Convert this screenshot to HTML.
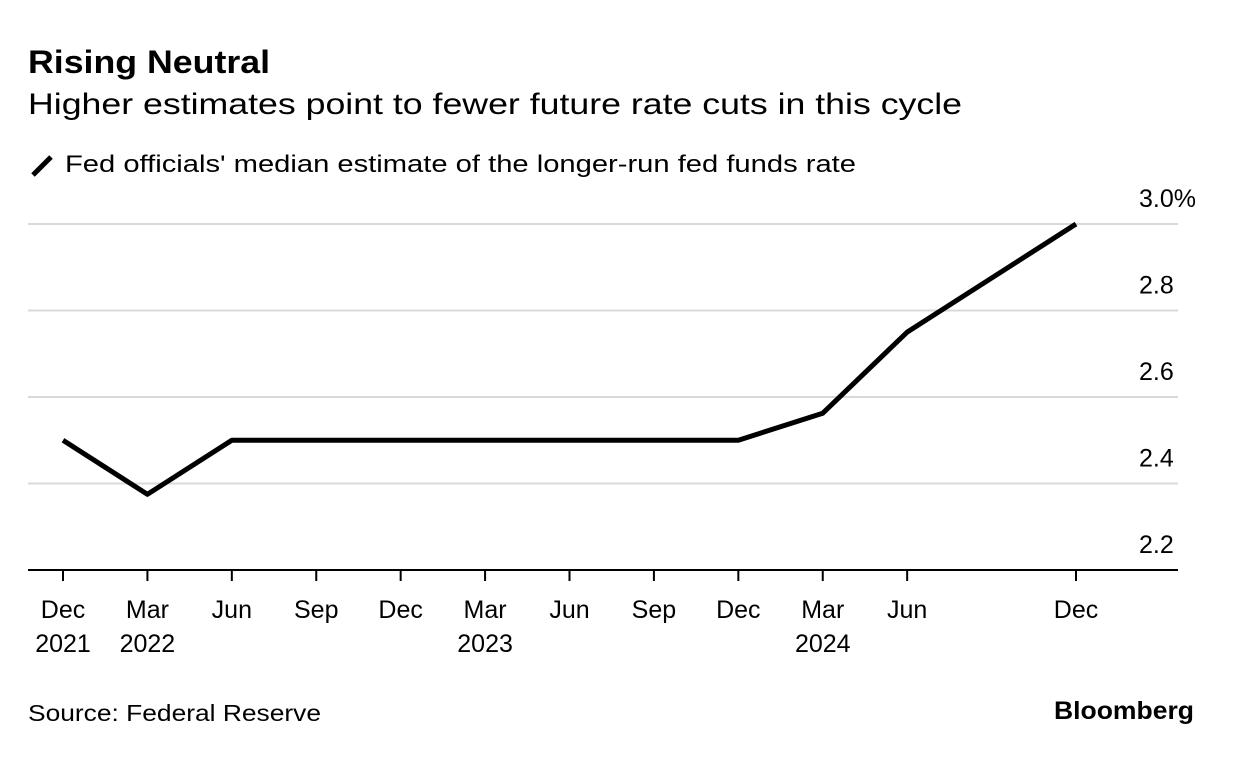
<!DOCTYPE html>
<html><head><meta charset="utf-8"><style>
body{margin:0;background:#fff;font-family:"Liberation Sans",sans-serif;}
</style></head><body>
<svg width="1233" height="770" xmlns="http://www.w3.org/2000/svg" font-family="Liberation Sans, sans-serif">
<text x="28" y="73" font-size="32" font-weight="bold" fill="#000" textLength="242" lengthAdjust="spacingAndGlyphs">Rising Neutral</text>
<text x="28" y="114" font-size="30" fill="#000" textLength="934" lengthAdjust="spacingAndGlyphs">Higher estimates point to fewer future rate cuts in this cycle</text>
<line x1="33" y1="175" x2="51" y2="157" stroke="#000" stroke-width="5"/>
<text x="65" y="172" font-size="24" fill="#000" textLength="791" lengthAdjust="spacingAndGlyphs">Fed officials' median estimate of the longer-run fed funds rate</text>
<g id="grid"></g><g id="xaxis"></g>
<path id="line" fill="none" stroke="#000" stroke-width="5" stroke-linejoin="round"/>
<text x="28" y="721" font-size="23" fill="#000" textLength="293" lengthAdjust="spacingAndGlyphs">Source: Federal Reserve</text>
<text x="1194" y="719" font-size="25" font-weight="bold" fill="#000" text-anchor="end" textLength="140" lengthAdjust="spacingAndGlyphs">Bloomberg</text>
</svg>
<script>
const quarters=[0,1,2,3,4,5,6,7,8,9,10,11,12];
const values=[2.5,2.375,2.5,2.5,2.5,2.5,2.5,2.5,2.5,2.5625,2.75,2.875,3.0];
const yTicks=[2.2,2.4,2.6,2.8,3.0];
const yTickLabels=["2.2","2.4","2.6","2.8","3.0%"];
const xTickQuarters=[0,1,2,3,4,5,6,7,8,9,10,12];
const xTickLine1=["Dec","Mar","Jun","Sep","Dec","Mar","Jun","Sep","Dec","Mar","Jun","Dec"];
const xTickLine2=["2021","2022","","","","2023","","","","2024","",""];
const NS="http://www.w3.org/2000/svg";
const x=q=>63+q*(1076-63)/12;
const y=v=>570-(v-2.2)/0.2*86.5;
const grid=document.getElementById('grid');
yTicks.forEach((t,i)=>{
  if(i>0){const l=document.createElementNS(NS,'line');
  l.setAttribute('x1',28);l.setAttribute('x2',1178);l.setAttribute('y1',y(t));l.setAttribute('y2',y(t));
  l.setAttribute('stroke','#d9d9d9');l.setAttribute('stroke-width',2);
  
  
  grid.appendChild(l);}
  const tx=document.createElementNS(NS,'text');
  tx.setAttribute('x',1139);tx.setAttribute('y',y(t)-17);tx.setAttribute('font-size',25);
  tx.textContent=yTickLabels[i];
  
  
  grid.appendChild(tx);
});
const xa=document.getElementById('xaxis');
const base=document.createElementNS(NS,'line');
base.setAttribute('x1',28);base.setAttribute('x2',1178);base.setAttribute('y1',570);base.setAttribute('y2',570);
base.setAttribute('stroke','#000');base.setAttribute('stroke-width',2);


xa.appendChild(base);
xTickQuarters.forEach((q,i)=>{
  const t=document.createElementNS(NS,'line');
  t.setAttribute('x1',x(q));t.setAttribute('x2',x(q));t.setAttribute('y1',570);t.setAttribute('y2',581);
  t.setAttribute('stroke','#000');t.setAttribute('stroke-width',2);
  
  
  xa.appendChild(t);
  const a=document.createElementNS(NS,'text');
  a.setAttribute('x',x(q));a.setAttribute('y',618);a.setAttribute('font-size',25);a.setAttribute('text-anchor','middle');
  a.textContent=xTickLine1[i];
  
  
  xa.appendChild(a);
  if(xTickLine2[i]){const b=document.createElementNS(NS,'text');
  b.setAttribute('x',x(q));b.setAttribute('y',652);b.setAttribute('font-size',25);b.setAttribute('text-anchor','middle');
  b.textContent=xTickLine2[i];
  
  
  xa.appendChild(b);}
});
document.getElementById('line').setAttribute('d',quarters.map((q,i)=>(i?'L':'M')+x(q)+','+y(values[i])).join(' '));
</script>
</body></html>
